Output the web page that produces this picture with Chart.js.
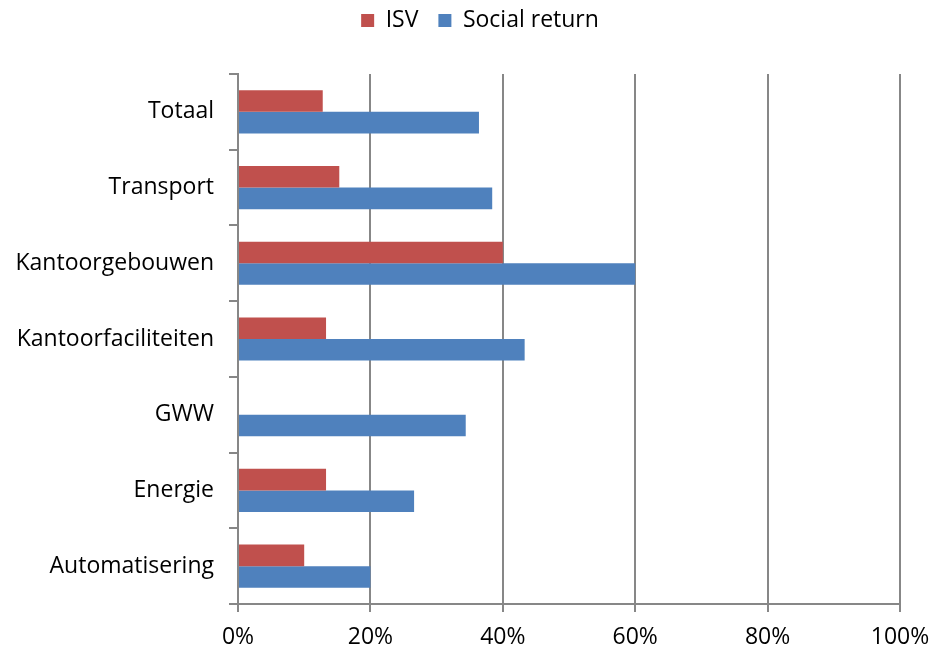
<!DOCTYPE html>
<html>
<head>
<meta charset="utf-8">
<script src="https://cdn.jsdelivr.net/npm/chart.js@4"></script>
<style>
html,body{margin:0;padding:0;background:#fff;}
#wrap{width:934px;height:651px;}
</style>
</head>
<body>
<div id="wrap"><canvas id="c" width="934" height="651"></canvas></div>
<script>
const categories = ["Totaal", "Transport", "Kantoorgebouwen", "Kantoorfaciliteiten", "GWW", "Energie", "Automatisering"];
const isvValues = [12.8, 15.3, 40, 13.3, 0, 13.3, 10];
const socialReturnValues = [36.4, 38.4, 60, 43.3, 34.4, 26.6, 20];
const xTicks = [0, 20, 40, 60, 80, 100];

const FONT = "'Open Sans', sans-serif";
const GRID = '#878787';

const legendTweak = {
  id: 'legendTweak',
  beforeInit(chart) {
    const lg = chart.legend;
    const fit = lg.fit;
    lg.fit = function () { fit.call(this); this.height += 21; };
  },
  afterLayout(chart) {
    const lg = chart.legend;
    lg.left += 30;
    lg.right += 30;
    lg.top -= 11;
    lg.bottom -= 11;
  }
};

new Chart(document.getElementById('c'), {
  type: 'bar',
  data: {
    labels: categories,
    datasets: [
      { label: 'ISV', data: isvValues, backgroundColor: '#C0504D', borderWidth: 0 },
      { label: 'Social return', data: socialReturnValues, backgroundColor: '#4F81BD', borderWidth: 0 }
    ]
  },
  plugins: [legendTweak],
  options: {
    indexAxis: 'y',
    responsive: false,
    animation: false,
    devicePixelRatio: 1,
    layout: { padding: { left: 0, right: 34, top: 0, bottom: 0 } },
    datasets: { bar: { categoryPercentage: 0.57, barPercentage: 1.0 } },
    plugins: {
      legend: {
        position: 'top',
        labels: {
          font: { family: FONT, size: 23 },
          color: '#000',
          boxWidth: 13,
          boxHeight: 13,
          padding: 20
        }
      },
      tooltip: { enabled: false }
    },
    scales: {
      x: {
        min: 0, max: 100,
        afterBuildTicks: s => { s.ticks = xTicks.map(v => ({ value: v })); },
        afterFit: s => { s.height = 47; s.paddingRight = 0; s.paddingLeft = 0; },
        ticks: {
          font: { family: FONT, size: 23 },
          color: '#000',
          padding: 12,
          callback: v => v + '%'
        },
        grid: { color: GRID, lineWidth: 2, tickLength: 8 },
        border: { color: GRID, width: 2 }
      },
      y: {
        afterFit: s => { s.width = 238; },
        ticks: {
          font: { family: FONT, size: 23 },
          color: '#000',
          padding: 15
        },
        grid: { color: GRID, lineWidth: 2, tickLength: 9, drawOnChartArea: false, offset: true },
        border: { color: GRID, width: 2 }
      }
    }
  }
});
</script>
</body>
</html>
